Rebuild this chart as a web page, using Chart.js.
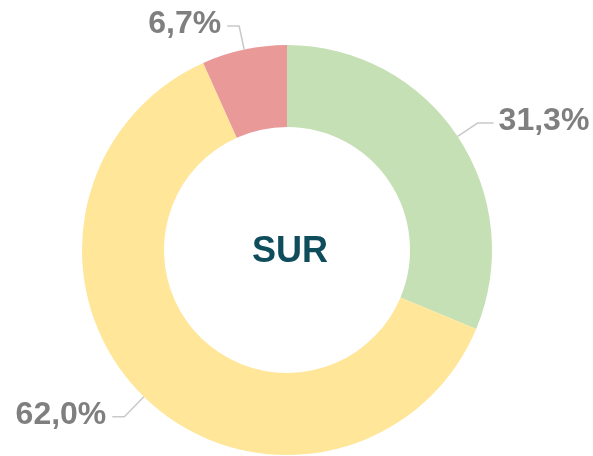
<!DOCTYPE html>
<html>
<head>
<meta charset="utf-8">
<script src="https://cdn.jsdelivr.net/npm/chart.js@4"></script>
<style>
  html, body { margin: 0; padding: 0; background: #fff; }
  #wrap { width: 593px; height: 456px; }
</style>
</head>
<body>
<div id="wrap"><canvas id="grafico" width="593" height="456"></canvas></div>
<script>
// datos del gráfico
const categorias = ["Verde", "Amarillo", "Rojo"];
const valores = [31.3, 62.0, 6.7];
const colores = ["#c5e0b4", "#ffe699", "#ea9999"];
const titulo = "SUR";

// etiquetas con línea guía (se calculan a partir de los arcos del gráfico)
const etiquetasPlugin = {
  id: "etiquetas",
  afterDraw(chart) {
    const ctx = chart.ctx;
    const meta = chart.getDatasetMeta(0);
    ctx.save();
    meta.data.forEach((arc, i) => {
      const ang = (arc.startAngle + arc.endAngle) / 2;
      const r = arc.outerRadius;
      const ext = Math.sin(ang) > 0.5 ? 28 : 24;
      const x0 = arc.x + Math.cos(ang) * r;
      const y0 = arc.y + Math.sin(ang) * r;
      const x1 = arc.x + Math.cos(ang) * (r + ext);
      const y1 = arc.y + Math.sin(ang) * (r + ext);
      const derecha = Math.cos(ang) >= 0;
      const x2 = x1 + (derecha ? 16 : -12);

      ctx.strokeStyle = "#c9c9c9";
      ctx.lineWidth = 1.5;
      ctx.beginPath();
      ctx.moveTo(x0, y0);
      ctx.lineTo(x1, y1);
      ctx.lineTo(x2, y1);
      ctx.stroke();

      const txt = valores[i].toFixed(1).replace(".", ",") + "%";
      ctx.fillStyle = "#7f7f7f";
      ctx.font = "bold 32px 'Liberation Sans', Arial, sans-serif";
      ctx.textBaseline = "middle";
      ctx.textAlign = derecha ? "left" : "right";
      ctx.fillText(txt, x2 + (derecha ? 5 : -6), y1 - 2);
    });

    // texto central
    const a = meta.data[0];
    ctx.fillStyle = "#0f4c5c";
    ctx.font = "bold 36px 'Liberation Sans', Arial, sans-serif";
    ctx.textAlign = "center";
    ctx.textBaseline = "middle";
    ctx.fillText(titulo, a.x + 3, a.y + 2);
    ctx.restore();
  }
};

const ctx = document.getElementById("grafico").getContext("2d");
new Chart(ctx, {
  type: "doughnut",
  data: {
    labels: categorias,
    datasets: [{
      data: valores,
      backgroundColor: colores,
      borderWidth: 0
    }]
  },
  options: {
    responsive: false,
    animation: false,
    cutout: "60%",
    layout: { padding: { top: 45, bottom: 1, left: 82, right: 101 } },
    plugins: {
      legend: { display: false },
      tooltip: { enabled: false }
    }
  },
  plugins: [etiquetasPlugin]
});
</script>
</body>
</html>
